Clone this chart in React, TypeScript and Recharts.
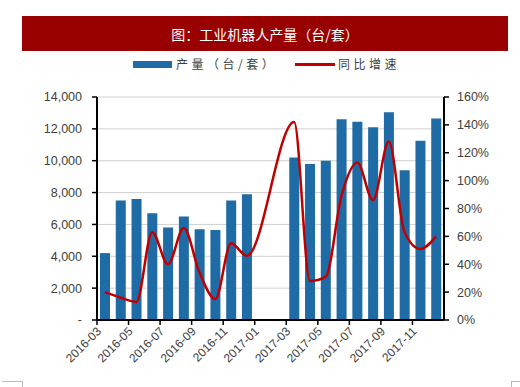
import React from 'react'
import { ComposedChart, Bar, Line, XAxis, YAxis, CartesianGrid } from 'recharts'

const months = [
  '2016-03', '2016-04', '2016-05', '2016-06', '2016-07', '2016-08', '2016-09', '2016-10',
  '2016-11', '2016-12', '2017-01', '2017-02', '2017-03', '2017-04', '2017-05', '2017-06',
  '2017-07', '2017-08', '2017-09', '2017-10', '2017-11', '2017-12',
]

// 产量（台/套）
const output = [
  4200, 7500, 7600, 6700, 5800, 6500, 5700, 5650,
  7500, 7900, null, null, 10200, 9800, 10000, 12600,
  12450, 12100, 13050, 9400, 11250, 12650,
]

// 同比增速 (%)
const growth = [
  20, 16, 13, 63, 40, 66, 34, 15,
  55, 46, null, null, 142, 28, 31, 89,
  113, 86, 128, 63, 51, 60,
]

const leftTicks = [0, 2000, 4000, 6000, 8000, 10000, 12000, 14000]
const rightTicks = [0, 20, 40, 60, 80, 100, 120, 140, 160]

const data = months.map((m, i) => ({ month: m, output: output[i], growth: growth[i] }))

const cjk = '"Noto Sans CJK SC", "Noto Sans", sans-serif'
const latin = '"Liberation Sans", Arial, sans-serif'

const XTick = (props: any) => {
  const { x, y, payload } = props
  const off = payload && payload.offset != null ? payload.offset : 7.9
  const bx = x - off
  return (
    <g>
      <line x1={bx} y1={y} x2={bx} y2={y + 5} stroke="#000" strokeWidth={1.5} />
      <text
        x={bx + 5}
        y={y + 12}
        textAnchor="end"
        transform={`rotate(-45, ${bx + 5}, ${y + 12})`}
        fontSize={12}
        fontFamily={latin}
        fill="#404040"
      >
        {payload.value}
      </text>
    </g>
  )
}

export default function App() {
  return (
    <div style={{ position: 'absolute', left: 0, top: 0, width: 520, height: 387, background: '#fff' }}>
      <div
        style={{
          position: 'absolute', left: 22, top: 16, width: 486, height: 35,
          background: '#990000', color: '#fff', fontFamily: cjk, fontSize: 14,
          display: 'flex', alignItems: 'center', justifyContent: 'center',
        }}
      >
        图：工业机器人产量（台/套）
      </div>
      <div style={{ position: 'absolute', left: 133, top: 61, width: 39, height: 7, background: '#1f6ba6' }} />
      <div style={{ position: 'absolute', left: 176, top: 55, fontFamily: cjk, fontSize: 12, letterSpacing: 3.5, color: '#404040', lineHeight: '18px' }}>
        产量（台/套）
      </div>
      <div style={{ position: 'absolute', left: 295, top: 63, width: 40, height: 2.5, background: '#c00000' }} />
      <div style={{ position: 'absolute', left: 338, top: 55, fontFamily: cjk, fontSize: 12, letterSpacing: 3.5, color: '#404040', lineHeight: '18px' }}>
        同比增速
      </div>
      <div style={{ position: 'absolute', left: 2, top: 381, width: 20, height: 6, borderTop: '1px solid #bbb', borderRight: '1px solid #bbb' }} />
      <div style={{ position: 'absolute', left: 511, top: 381, width: 9, height: 6, borderTop: '1px solid #bbb', borderLeft: '1px solid #bbb' }} />
      <ComposedChart
        width={520}
        height={387}
        data={data}
        margin={{ top: 97, right: 0, bottom: 0, left: 0 }}
        barCategoryGap="19%"
        style={{ position: 'absolute', left: 0, top: 0 }}
      >
        <CartesianGrid yAxisId="left" vertical={false} stroke="#d0d0d0" strokeWidth={1} />
        <XAxis
          dataKey="month"
          height={67}
          interval={1}
          tickLine={false}
          tickSize={0}
          tickMargin={0}
          axisLine={{ stroke: '#000', strokeWidth: 2 }}
          tick={<XTick />}
        />
        <YAxis
          yAxisId="left"
          width={97}
          domain={[0, 14000]}
          ticks={leftTicks}
          interval={0}
          axisLine={{ stroke: '#000', strokeWidth: 2 }}
          tickLine={{ stroke: '#000', strokeWidth: 1.5 }}
          tickSize={5}
          tickMargin={10}
          tick={{ fontSize: 12.5, fill: '#404040', fontFamily: latin }}
          tickFormatter={(v: number) => (v === 0 ? '-' : v.toLocaleString('en-US'))}
        />
        <YAxis
          yAxisId="right"
          orientation="right"
          width={76}
          domain={[0, 160]}
          ticks={rightTicks}
          interval={0}
          axisLine={{ stroke: '#000', strokeWidth: 2 }}
          tickLine={{ stroke: '#000', strokeWidth: 1.5 }}
          tickSize={5}
          tickMargin={8}
          tick={{ fontSize: 12.5, fill: '#404040', fontFamily: latin }}
          tickFormatter={(v: number) => `${v}%`}
        />
        <Bar yAxisId="left" dataKey="output" fill="#1f6ba6" isAnimationActive={false} />
        <Line
          yAxisId="right"
          type="monotone"
          dataKey="growth"
          stroke="#c00000"
          strokeWidth={2.5}
          dot={false}
          connectNulls
          isAnimationActive={false}
        />
      </ComposedChart>
    </div>
  )
}
